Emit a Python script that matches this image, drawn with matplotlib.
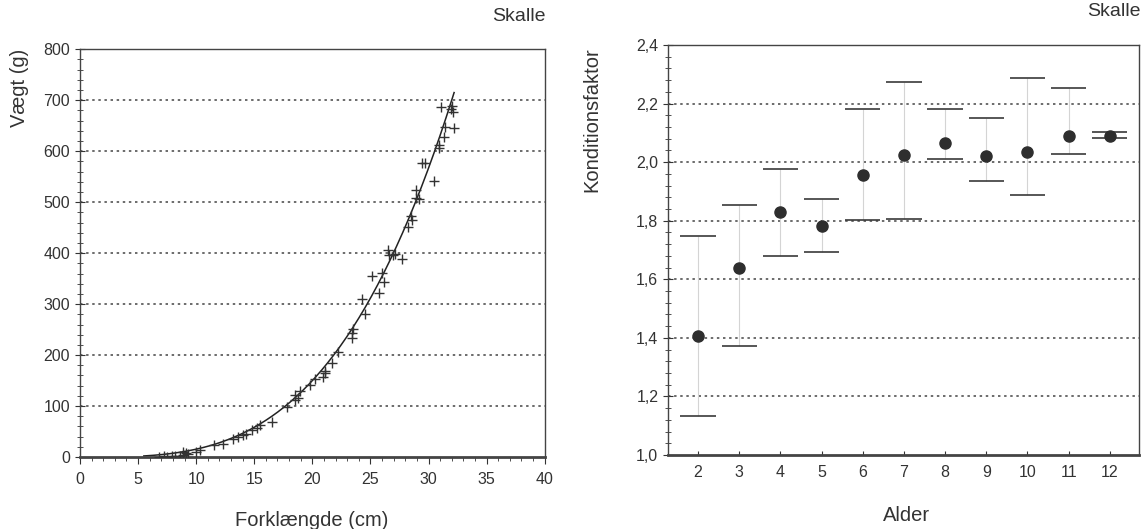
import matplotlib
matplotlib.use("Agg")
import matplotlib.pyplot as plt
import numpy as np
from matplotlib.ticker import MultipleLocator, FuncFormatter

plt.rcParams["font.family"] = ["Liberation Sans", "DejaVu Sans"]

# Venstre panel: længde/vægt for skalle
laengde = [31.1, 32.0, 32.1, 31.9, 32.2, 31.4, 31.3, 30.9, 30.9, 29.4, 29.7,
           30.5, 28.9, 28.9, 29.2, 28.5, 28.6, 28.2, 26.5, 26.6, 27.1, 26.9,
           27.7, 25.1, 26.0, 26.2, 25.7, 24.3, 24.5, 23.5, 23.4, 23.4, 22.2,
           21.7, 21.1, 20.9, 21.1, 20.2, 19.8, 18.9, 18.5, 18.8, 18.5, 17.8,
           16.5, 15.5, 15.2, 14.8, 14.3, 14.0, 13.6, 13.2, 12.3, 11.5, 10.3,
           10.0, 9.1, 8.9, 8.6, 8.2, 7.5, 6.8, 7.2, 8.9, 9.3, 7.9]
vaegt = [687, 688, 676, 682, 645, 647, 628, 612, 607, 577, 577,
         542, 524, 508, 506, 472, 465, 452, 406, 396, 399, 396,
         388, 355, 361, 344, 322, 310, 280, 251, 243, 234, 206,
         185, 168, 158, 164, 153, 142, 129, 122, 115, 112, 99,
         69, 63, 57, 54, 46, 43, 40, 36, 26, 23, 13,
         10, 8, 5, 3, 3, 1, 1, 2, 10, 6, 2]

# vægt = a * længde^b
fit_a = 0.0081
fit_b = 3.28
fit_fra, fit_til = 5.5, 32.2

# Højre panel: konditionsfaktor pr. alder
alder = [2, 3, 4, 5, 6, 7, 8, 9, 10, 11, 12]
k_middel = [1.406, 1.637, 1.830, 1.782, 1.956, 2.024, 2.064, 2.021, 2.036, 2.090, 2.090]
k_oevre = [1.749, 1.855, 1.977, 1.873, 2.180, 2.275, 2.183, 2.150, 2.288, 2.252, 2.102]
k_nedre = [1.134, 1.373, 1.681, 1.694, 1.802, 1.806, 2.011, 1.936, 1.886, 2.027, 2.081]

MORK = "#333333"
komma = FuncFormatter(lambda v, p: f"{v:.1f}".replace(".", ","))
prikket = (0, (1.6, 2.4))

fig = plt.figure(figsize=(11.42, 5.29), dpi=100)

# --- venstre ---
ax1 = fig.add_axes([0.070, 0.136, 0.407, 0.771])
for y in range(100, 800, 100):
    ax1.axhline(y, color="#444444", lw=1.1, ls=prikket, zorder=1)
ax1.plot(laengde, vaegt, ls="none", marker="+", ms=7, mew=1.0, color=MORK, zorder=3)
L = np.linspace(fit_fra, fit_til, 200)
ax1.plot(L, fit_a * L ** fit_b, color="#222222", lw=1.1, zorder=2)
ax1.set_xlim(0, 40)
ax1.set_ylim(0, 800)
ax1.xaxis.set_major_locator(MultipleLocator(5))
ax1.xaxis.set_minor_locator(MultipleLocator(1))
ax1.yaxis.set_major_locator(MultipleLocator(100))
ax1.yaxis.set_minor_locator(MultipleLocator(20))
ax1.tick_params(axis="x", which="both", direction="out", colors=MORK, labelsize=11.5, pad=6)
ax1.tick_params(axis="x", which="major", length=5)
ax1.tick_params(axis="x", which="minor", length=3)
ax1.tick_params(axis="y", which="both", direction="inout", colors=MORK, labelsize=11.5)
ax1.tick_params(axis="y", which="major", length=7)
ax1.tick_params(axis="y", which="minor", length=5)
for s in ax1.spines.values():
    s.set_color("#444444")
    s.set_linewidth(1.0)
ax1.spines["bottom"].set_linewidth(2.0)
fig.text(0.017, 0.834, "Vægt (g)", rotation=90, ha="center", va="center",
         fontsize=14.5, color=MORK)
fig.text(0.273, 0.017, "Forklængde (cm)", ha="center", va="center",
         fontsize=14.5, color=MORK)
fig.text(0.478, 0.968, "Skalle", ha="right", va="center", fontsize=14, color=MORK)

# --- højre ---
ax2 = fig.add_axes([0.585, 0.140, 0.412, 0.775])
for y in [1.2, 1.4, 1.6, 1.8, 2.0, 2.2]:
    ax2.axhline(y, color="#444444", lw=1.1, ls=prikket, zorder=1)
ax2.vlines(alder, k_nedre, k_oevre, color="#d4d4d4", lw=0.8, zorder=2)
ax2.hlines(k_oevre, np.array(alder) - 0.43, np.array(alder) + 0.43,
           color="#3a3a3a", lw=1.2, zorder=3)
ax2.hlines(k_nedre, np.array(alder) - 0.43, np.array(alder) + 0.43,
           color="#3a3a3a", lw=1.2, zorder=3)
ax2.plot(alder, k_middel, ls="none", marker="o", ms=8, color="#2e2e2e", zorder=4)
ax2.set_xlim(1.27, 12.70)
ax2.set_ylim(1.0, 2.4)
ax2.set_xticks(alder)
ax2.yaxis.set_major_locator(MultipleLocator(0.2))
ax2.yaxis.set_minor_locator(MultipleLocator(0.04))
ax2.yaxis.set_major_formatter(komma)
ax2.tick_params(axis="x", direction="in", length=3, colors=MORK, labelsize=11.5, pad=7)
ax2.tick_params(axis="y", which="both", direction="inout", colors=MORK, labelsize=11.5)
ax2.tick_params(axis="y", which="major", length=7)
ax2.tick_params(axis="y", which="minor", length=5)
for s in ax2.spines.values():
    s.set_color("#444444")
    s.set_linewidth(1.0)
ax2.spines["bottom"].set_linewidth(2.0)
fig.text(0.518, 0.773, "Konditionsfaktor", rotation=90, ha="center", va="center",
         fontsize=14.5, color=MORK)
fig.text(0.794, 0.026, "Alder", ha="center", va="center", fontsize=14.5, color=MORK)
fig.text(0.999, 0.978, "Skalle", ha="right", va="center", fontsize=14, color=MORK)

fig.savefig("out.png", dpi=100)
